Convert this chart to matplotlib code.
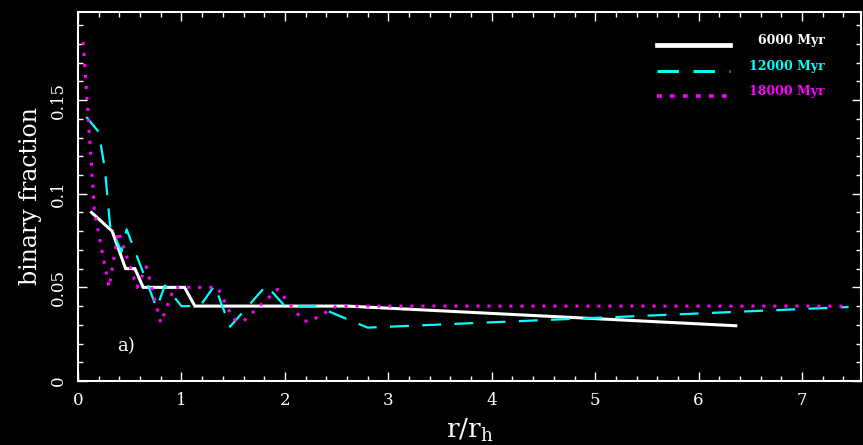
import matplotlib
matplotlib.use("Agg")
import matplotlib.pyplot as plt
from matplotlib.ticker import MultipleLocator, FixedLocator, FixedFormatter

# radial binary fraction profiles, r in units of the half-mass radius
r_6000 = [0.13, 0.33, 0.46, 0.55, 0.63, 1.03, 1.13, 2.60, 6.36]
fb_6000 = [0.090, 0.080, 0.060, 0.060, 0.050, 0.050, 0.040, 0.040, 0.0295]

r_12000 = [0.08, 0.20, 0.26, 0.31, 0.42, 0.47, 0.76, 0.84, 1.00, 1.18,
           1.32, 1.47, 1.82, 2.00, 2.30, 2.80, 7.45]
fb_12000 = [0.141, 0.133, 0.113, 0.083, 0.069, 0.081, 0.039, 0.051, 0.040, 0.040,
            0.051, 0.029, 0.051, 0.040, 0.040, 0.0285, 0.0395]

r_18000 = [0.05, 0.16, 0.30, 0.39, 0.57, 0.66, 0.80, 0.93, 1.35, 1.50,
           1.60, 1.93, 2.18, 2.25, 2.50, 7.45]
fb_18000 = [0.181, 0.090, 0.050, 0.080, 0.050, 0.061, 0.031, 0.050, 0.050, 0.033,
            0.032, 0.049, 0.032, 0.032, 0.040, 0.040]

labels = ["6000 Myr", "12000 Myr", "18000 Myr"]
yticks = [0, 0.05, 0.1, 0.15]
ytick_labels = ["0", "0.05", "0.1", "0.15"]

FONT = "DejaVu Serif"
FG = "white"

fig = plt.figure(figsize=(8.63, 4.45), dpi=100, facecolor="black")
ax = fig.add_axes([0.0904, 0.1438, 0.9073, 0.8292], facecolor="black")

ax.plot(r_6000, fb_6000, color="white", lw=2.2, solid_joinstyle="miter")
ax.plot(r_12000, fb_12000, color="#00ffff", lw=1.6, linestyle=(0, (8.5, 6.0)))
ax.plot(r_18000, fb_18000, color="#ff00ff", lw=2.2, linestyle=(0, (1.0, 2.6)))

ax.set_xlim(0, 7.57)
ax.set_ylim(0, 0.197)

ax.xaxis.set_major_locator(MultipleLocator(1))
ax.xaxis.set_minor_locator(MultipleLocator(0.2))
ax.yaxis.set_major_locator(FixedLocator(yticks))
ax.yaxis.set_major_formatter(FixedFormatter(ytick_labels))
ax.yaxis.set_minor_locator(MultipleLocator(0.01))

for s in ax.spines.values():
    s.set_color(FG)
    s.set_linewidth(1.5)

ax.tick_params(which="both", direction="in", top=True, right=True, colors=FG, width=1.0)
ax.tick_params(which="major", length=6.5)
ax.tick_params(which="minor", length=3.5)
ax.tick_params(axis="x", which="major", pad=8, labelsize=12)
ax.tick_params(axis="y", which="major", pad=8, labelsize=12)
for lab in ax.get_xticklabels() + ax.get_yticklabels():
    lab.set_fontfamily(FONT)
for lab in ax.get_yticklabels():
    lab.set_rotation(90)
    lab.set_va("center")

ax.set_ylabel("binary fraction", color=FG, fontsize=17, family=FONT, labelpad=6)
ax.set_xlabel(r"r/r$_\mathregular{h}$", color=FG, fontsize=19, family=FONT, labelpad=5)

ax.text(0.38, 0.0185, "a)", color=FG, fontsize=13, family=FONT, ha="left", va="center")

# key in the upper right corner
key_styles = [
    dict(color="white", lw=3.4, linestyle="-"),
    dict(color="#00ffff", lw=2.2, linestyle=(0, (7.0, 4.8))),
    dict(color="#ff00ff", lw=2.6, linestyle=(0, (1.3, 2.3))),
]
key_y = [0.9106, 0.840, 0.772]
for lab, style, yk in zip(labels, key_styles, key_y):
    ax.plot([0.739, 0.833], [yk, yk], transform=ax.transAxes, clip_on=False, **style)
    ax.text(0.954, yk + 0.012, lab, transform=ax.transAxes, color=style["color"],
            fontsize=9, fontweight="bold", family=FONT, ha="right", va="center")

fig.savefig("out.png", dpi=100, facecolor="black")
